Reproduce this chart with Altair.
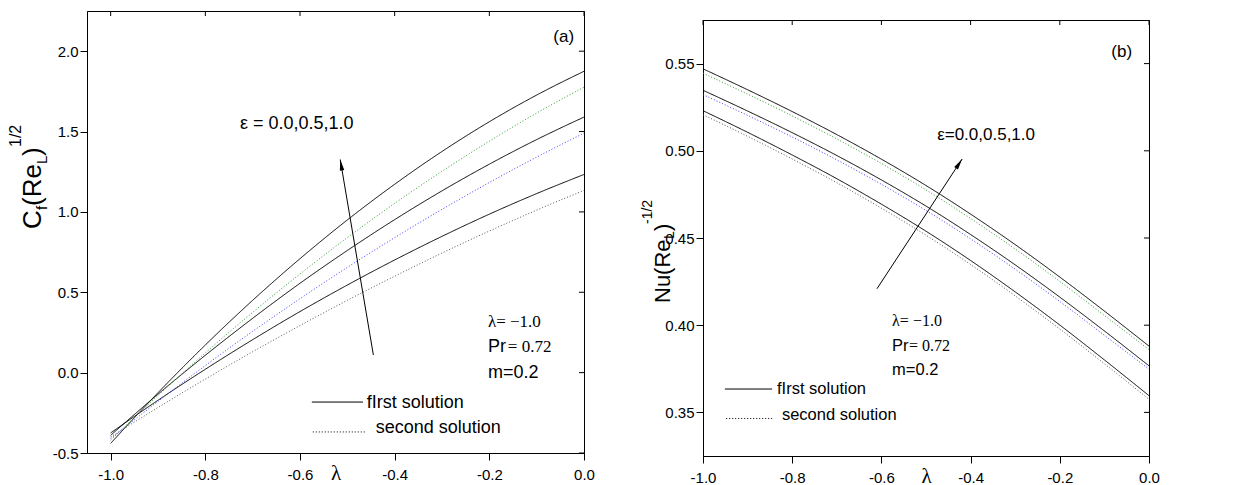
import altair as alt
import pandas as pd

# ---------------- data ----------------
lam = [-1.0, -0.9, -0.8, -0.7, -0.6, -0.5, -0.4, -0.3, -0.2, -0.1, 0.0]

# panel (a): skin friction C_f (Re_L)^{1/2}
cf_first_e00 = [-0.375, -0.172, 0.021, 0.205, 0.380, 0.545, 0.701, 0.848, 0.986, 1.114, 1.233]
cf_first_e05 = [-0.39, -0.134, 0.108, 0.338, 0.556, 0.760, 0.952, 1.131, 1.297, 1.450, 1.590]
cf_first_e10 = [-0.44, -0.125, 0.172, 0.450, 0.709, 0.950, 1.172, 1.376, 1.561, 1.727, 1.875]
cf_second_e00 = [-0.40, -0.217, -0.040, 0.130, 0.293, 0.450, 0.600, 0.744, 0.881, 1.011, 1.134]
cf_second_e05 = [-0.41, -0.179, 0.044, 0.257, 0.460, 0.655, 0.840, 1.016, 1.183, 1.341, 1.490]
cf_second_e10 = [-0.42, -0.142, 0.123, 0.375, 0.614, 0.840, 1.053, 1.253, 1.440, 1.615, 1.776]

# panel (b): Nusselt number Nu (Re_L)^{-1/2}
nu_first_e00 = [0.523, 0.5106, 0.4976, 0.4840, 0.4694, 0.4539, 0.4371, 0.4191, 0.4001, 0.3801, 0.3596]
nu_first_e05 = [0.5347, 0.5228, 0.5104, 0.4973, 0.4833, 0.4683, 0.4520, 0.4346, 0.4161, 0.3967, 0.3767]
nu_first_e10 = [0.547, 0.535, 0.5225, 0.5093, 0.4952, 0.4801, 0.4637, 0.4462, 0.4276, 0.4081, 0.388]
nu_second_e00 = [0.5207, 0.5083, 0.4953, 0.4817, 0.4671, 0.4516, 0.4348, 0.4168, 0.3978, 0.3779, 0.3575]
nu_second_e05 = [0.5322, 0.5203, 0.5079, 0.4948, 0.4808, 0.4658, 0.4495, 0.4321, 0.4136, 0.3942, 0.3748]
nu_second_e10 = [0.5445, 0.5325, 0.5200, 0.5068, 0.4927, 0.4776, 0.4612, 0.4437, 0.4251, 0.4056, 0.3860]

x_ticks = [-1.0, -0.8, -0.6, -0.4, -0.2, 0.0]
cf_ticks = [-0.5, 0.0, 0.5, 1.0, 1.5, 2.0]
nu_ticks = [0.35, 0.40, 0.45, 0.50, 0.55]

MINUS_FIX = "replace(format(datum.value,'{f}'),'\u2212','-')"


def long_df(d):
    rows = []
    for name, vals in d.items():
        for x, v in zip(lam, vals):
            rows.append({"lam": x, "val": v, "series": name})
    return pd.DataFrame(rows)


one = pd.DataFrame({"a": [0]})


def vtext(txt, x, y, fs, font="Liberation Sans"):
    return alt.Chart(one).mark_text(
        text=txt, angle=270, align="left", baseline="alphabetic",
        fontSize=fs, font=font, color="black"
    ).encode(x=alt.value(x), y=alt.value(y))


def texts(df, fs, font="Liberation Sans", align="left", xs=None, ys=None):
    return alt.Chart(df).mark_text(
        align=align, baseline="alphabetic", fontSize=fs, font=font, color="black"
    ).encode(
        x=alt.X("x:Q", scale=xs), y=alt.Y("y:Q", scale=ys), text="t:N"
    )


def panel(series, colors, dashes, xs, ys, W, x_fmt, y_fmt, y_vals):
    df = long_df(series)
    names = list(series.keys())
    lines = alt.Chart(df).mark_line(strokeWidth=1, interpolate="monotone").encode(
        x=alt.X("lam:Q", scale=xs, axis=alt.Axis(
            values=x_ticks, labelExpr=MINUS_FIX.format(f=x_fmt), title="λ",
            titleFont="Liberation Serif", titleFontSize=21, titleFontWeight="normal",
            titleY=26, titleBaseline="alphabetic", labelFlush=False, labelOverlap=False,
            tickSize=7, labelPadding=7, grid=False)),
        y=alt.Y("val:Q", scale=ys, axis=alt.Axis(
            values=y_vals, labelExpr=MINUS_FIX.format(f=y_fmt), title=None,
            labelFlush=False, labelOverlap=False, tickSize=7, labelPadding=2, grid=False)),
        color=alt.Color("series:N", scale=alt.Scale(domain=names, range=colors), legend=None),
        strokeDash=alt.StrokeDash("series:N", scale=alt.Scale(domain=names, range=dashes), legend=None),
        detail="series:N",
    )
    top_ticks = alt.Chart(pd.DataFrame({"t": x_ticks})).mark_rule(color="black").encode(
        x=alt.X("t:Q", scale=xs), y=alt.value(0), y2=alt.value(5))
    right_ticks = alt.Chart(pd.DataFrame({"t": y_vals})).mark_rule(color="black").encode(
        y=alt.Y("t:Q", scale=ys), x=alt.value(W - 5), x2=alt.value(W))
    return [lines, top_ticks, right_ticks]


dashes = [[1, 0], [1, 0], [1, 0], [1, 2], [1, 2], [1, 2]]

# ---------------- panel (a) ----------------
W1, H1 = 497, 442
xs1 = alt.Scale(domain=[-1.05, 0.0], nice=False, zero=False)
ys1 = alt.Scale(domain=[-0.5, 2.25], nice=False, zero=False)

left_series = {
    "Cf first e=0.0": cf_first_e00, "Cf first e=0.5": cf_first_e05, "Cf first e=1.0": cf_first_e10,
    "Cf second e=0.0": cf_second_e00, "Cf second e=0.5": cf_second_e05, "Cf second e=1.0": cf_second_e10,
}
left_colors = ["black", "black", "black", "#555555", "#3b3bff", "#2f9a2f"]

L = panel(left_series, left_colors, dashes, xs1, ys1, W1, ".1f", ".1f", cf_ticks)

lab_a = texts(pd.DataFrame({"x": [-0.021], "y": [2.056], "t": ["(a)"]}), 17, align="right", xs=xs1, ys=ys1)
eps_a = texts(pd.DataFrame({"x": [-0.727], "y": [1.515], "t": ["ε = 0.0,0.5,1.0"]}), 18, xs=xs1, ys=ys1)
serif_a = texts(pd.DataFrame({"x": [-0.203, -0.161], "y": [0.284, 0.128], "t": ["λ= −1.0", "= 0.72"]}),
                17, font="Liberation Serif", xs=xs1, ys=ys1)
sans_a = texts(pd.DataFrame({"x": [-0.203, -0.203, -0.459, -0.440], "y": [0.128, -0.034, -0.220, -0.376],
                             "t": ["Pr", "m=0.2", "fIrst  solution", "second solution"]}), 18, xs=xs1, ys=ys1)
leg_a1 = alt.Chart(pd.DataFrame({"x": [-0.575], "x2": [-0.467], "y": [-0.183]})).mark_rule(
    color="black", strokeWidth=1).encode(x=alt.X("x:Q", scale=xs1), x2="x2:Q", y=alt.Y("y:Q", scale=ys1))
leg_a2 = alt.Chart(pd.DataFrame({"x": [-0.573], "x2": [-0.461], "y": [-0.369]})).mark_rule(
    color="black", strokeWidth=1, strokeDash=[1, 2]).encode(x=alt.X("x:Q", scale=xs1), x2="x2:Q", y=alt.Y("y:Q", scale=ys1))
arrow_a = alt.Chart(pd.DataFrame({"x": [-0.445], "y": [0.110], "x2": [-0.515], "y2": [1.326]})).mark_rule(
    color="black", strokeWidth=1).encode(x=alt.X("x:Q", scale=xs1), y=alt.Y("y:Q", scale=ys1), x2="x2:Q", y2="y2:Q")
head_a = alt.Chart(pd.DataFrame({"x": [-0.515], "y": [1.326]})).mark_point(
    shape="M0,0L0.45,2.2L-0.45,2.2Z", filled=True, size=100, angle=350.4, color="black", opacity=1
).encode(x=alt.X("x:Q", scale=xs1), y=alt.Y("y:Q", scale=ys1))
bound_a = alt.Chart(one).mark_rule(color="white", strokeWidth=1).encode(
    x=alt.value(-86), x2=alt.value(-80), y=alt.value(-10), y2=alt.value(-10))

title_a = [
    vtext("C", -46, 218, 26),
    vtext("f", -40, 199, 15),
    vtext("(Re", -46, 195, 26),
    vtext("L", -40, 153, 15),
    vtext(")", -46, 145, 26),
    vtext("1/2", -66, 136, 16),
]

left = alt.layer(*L, lab_a, eps_a, serif_a, sans_a, leg_a1, leg_a2, arrow_a, head_a, bound_a, *title_a
                 ).properties(width=W1, height=H1)

# ---------------- panel (b) ----------------
W2, H2 = 446, 436
xs2 = alt.Scale(domain=[-1.0, 0.0], nice=False, zero=False)
ys2 = alt.Scale(domain=[0.325, 0.575], nice=False, zero=False)

right_series = {
    "Nu first e=0.0": nu_first_e00, "Nu first e=0.5": nu_first_e05, "Nu first e=1.0": nu_first_e10,
    "Nu second e=0.0": nu_second_e00, "Nu second e=0.5": nu_second_e05, "Nu second e=1.0": nu_second_e10,
}
right_colors = ["black", "black", "black", "#666666", "#666666", "#666666"]

R = panel(right_series, right_colors, dashes, xs2, ys2, W2, ".1f", ".2f", nu_ticks)

lab_b = texts(pd.DataFrame({"x": [-0.038], "y": [0.554], "t": ["(b)"]}), 17, align="right", xs=xs2, ys=ys2)
eps_b = texts(pd.DataFrame({"x": [-0.475], "y": [0.506], "t": ["ε=0.0,0.5,1.0"]}), 17, xs=xs2, ys=ys2)
serif_b = texts(pd.DataFrame({"x": [-0.576, -0.538], "y": [0.3996, 0.3851], "t": ["λ= −1.0", "= 0.72"]}),
                16, font="Liberation Serif", xs=xs2, ys=ys2)
sans_b = texts(pd.DataFrame({"x": [-0.576, -0.576, -0.834, -0.823], "y": [0.3851, 0.3713, 0.3605, 0.3456],
                             "t": ["Pr", "m=0.2", "fIrst  solution", "second solution"]}), 16.5, xs=xs2, ys=ys2)
leg_b1 = alt.Chart(pd.DataFrame({"x": [-0.951], "x2": [-0.845], "y": [0.3634]})).mark_rule(
    color="black", strokeWidth=1).encode(x=alt.X("x:Q", scale=xs2), x2="x2:Q", y=alt.Y("y:Q", scale=ys2))
leg_b2 = alt.Chart(pd.DataFrame({"x": [-0.948], "x2": [-0.845], "y": [0.3465]})).mark_rule(
    color="black", strokeWidth=1, strokeDash=[1, 2]).encode(x=alt.X("x:Q", scale=xs2), x2="x2:Q", y=alt.Y("y:Q", scale=ys2))
arrow_b = alt.Chart(pd.DataFrame({"x": [-0.610], "y": [0.4209], "x2": [-0.419], "y2": [0.4953]})).mark_rule(
    color="black", strokeWidth=1).encode(x=alt.X("x:Q", scale=xs2), y=alt.Y("y:Q", scale=ys2), x2="x2:Q", y2="y2:Q")
head_b = alt.Chart(pd.DataFrame({"x": [-0.419], "y": [0.4953]})).mark_point(
    shape="M0,0L0.45,2.2L-0.45,2.2Z", filled=True, size=100, angle=33.3, color="black", opacity=1
).encode(x=alt.X("x:Q", scale=xs2), y=alt.Y("y:Q", scale=ys2))
bound_b = alt.Chart(one).mark_rule(color="white", strokeWidth=1).encode(
    x=alt.value(-100), x2=alt.value(-95), y=alt.value(20), y2=alt.value(20))

title_b = [
    vtext("Nu(Re", -33, 283, 22),
    vtext("L", -29, 219, 14),
    vtext(")", -33, 211, 22),
    vtext("-1/2", -51, 204, 14),
]

right = alt.layer(*R, lab_b, eps_b, serif_b, sans_b, leg_b1, leg_b2, arrow_b, head_b, bound_b, *title_b
                  ).properties(width=W2, height=H2)

spacer = alt.Chart(one).mark_rule(color="white", strokeWidth=1).encode(
    x=alt.value(0), x2=alt.value(10), y=alt.value(3), y2=alt.value(3)
).properties(width=10, height=7, view=alt.ViewBackground(stroke="transparent"))

right_col = alt.vconcat(spacer, right, spacing=0)

chart = alt.hconcat(left, right_col, spacing=7).properties(
    padding={"left": 0, "top": 0, "right": 5, "bottom": 5}
).configure_view(stroke="black", strokeWidth=1).configure_axis(
    domainColor="black", tickColor="black", labelColor="black",
    labelFont="Liberation Sans", labelFontSize=15, titleColor="black"
)

chart.save("out.html", embed_options={"renderer": "svg", "actions": False})
